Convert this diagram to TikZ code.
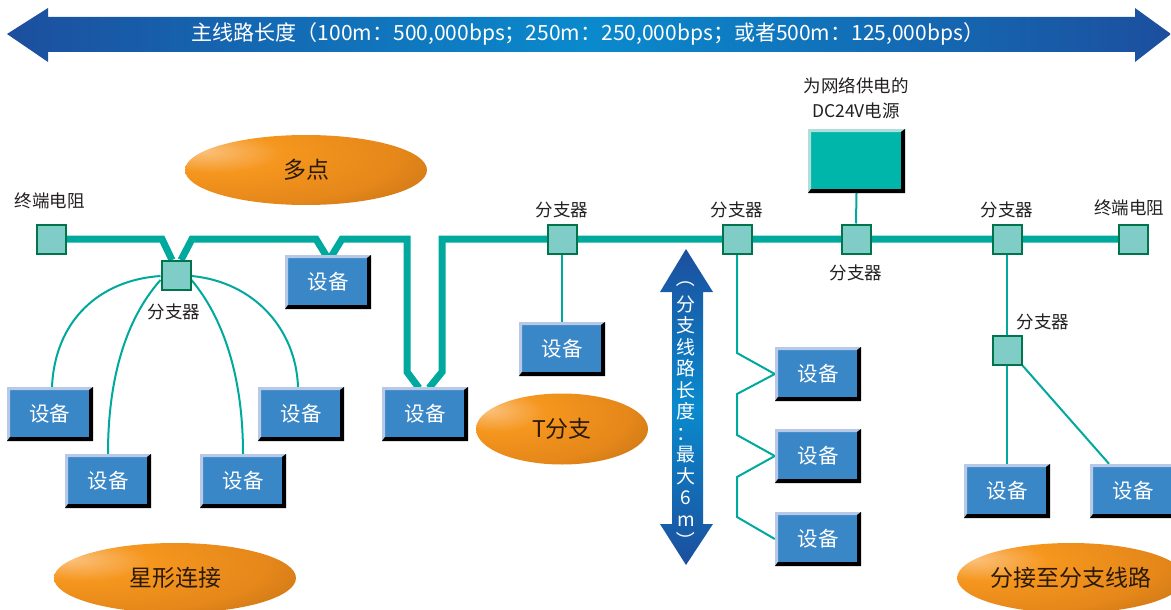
\documentclass[tikz,border=0pt]{standalone}
\usepackage{fontspec}
\setmainfont{Noto Sans CJK SC}
\usetikzlibrary{shapes.geometric}
\definecolor{busteal}{HTML}{00A99D}
\definecolor{boxfill}{HTML}{7FCDC6}
\definecolor{boxdraw}{HTML}{00744A}
\definecolor{devblue}{HTML}{3A87C8}
\definecolor{bevlight}{HTML}{B7C9E6}
\definecolor{pwteal}{HTML}{00B5A9}
\definecolor{pwlight}{HTML}{B0DEDA}
\definecolor{arrdark}{HTML}{1C4F9E}
\definecolor{arrmid}{HTML}{0A8ACD}
\definecolor{labtxt}{HTML}{231F20}
\definecolor{elltxt}{HTML}{2B1A0A}
\definecolor{obA}{HTML}{FBC27E}
\definecolor{obB}{HTML}{F5961E}
\definecolor{obC}{HTML}{E5871A}
\definecolor{obD}{HTML}{9A580E}
\pgfdeclareradialshading{orangeball}{\pgfpoint{-22bp}{14bp}}{color(0bp)=(obA); color(14bp)=(obB); color(34bp)=(obC); color(66bp)=(obD); color(100bp)=(obD)}
\pgfdeclarelayer{bg}
\pgfsetlayers{bg,main}
\tikzset{
  bus/.style={draw=busteal, line width=7pt},
  thin/.style={draw=busteal, line width=2pt},
  tap/.style={rectangle, fill=boxfill, draw=boxdraw, line width=2pt, minimum size=29pt, inner sep=0pt},
  lab/.style={text=labtxt, font=\fontsize{17.5}{18}\selectfont, inner sep=0pt},
  bevelbox/.style 2 args={rectangle, inner sep=0pt, fill=#1,
    path picture={
      \fill[#2] (path picture bounding box.north west) -- (path picture bounding box.north east)
        -- ([xshift=-4pt,yshift=-3pt]path picture bounding box.north east)
        -- ([xshift=3pt,yshift=-3pt]path picture bounding box.north west)
        -- ([xshift=3pt,yshift=4pt]path picture bounding box.south west)
        -- (path picture bounding box.south west) -- cycle;
      \fill[black] (path picture bounding box.south west) -- (path picture bounding box.south east)
        -- (path picture bounding box.north east)
        -- ([xshift=-4pt,yshift=-3pt]path picture bounding box.north east)
        -- ([xshift=-4pt,yshift=4pt]path picture bounding box.south east)
        -- ([xshift=3pt,yshift=4pt]path picture bounding box.south west) -- cycle;
    }},
  dev/.style={bevelbox={devblue}{bevlight}, minimum width=86pt, minimum height=54pt,
    text=white, font=\fontsize{20.5}{21}\selectfont},
  oval/.style={ellipse, inner sep=0pt, shading=orangeball, text=elltxt,
    font=\fontsize{23}{23}\selectfont},
  vtxt/.style={text=white, font=\fontsize{19}{19}\selectfont, inner sep=0pt},
}
\begin{document}
\begin{tikzpicture}[x=1pt, y=-1pt]
\useasboundingbox (0,0) rectangle (1171,610);

% top arrow
\shade[left color=arrdark, right color=arrdark, middle color=arrmid]
  (7,34) -- (48,8) -- (48,17) -- (1135,17) -- (1135,8) -- (1171,34)
  -- (1135,62) -- (1135,52) -- (48,52) -- (48,62) -- cycle;
\node[text=white, font=\fontsize{21}{21}\selectfont, inner sep=0pt] (title) at (588,34)
  {主线路长度（100m：500,000bps；250m：250,000bps；或者500m：125,000bps）};

% vertical arrow
\shade[top color=arrdark, bottom color=arrdark, middle color=arrmid]
  (686,249) -- (713,292) -- (703,292) -- (703,524) -- (713,524) -- (686,565)
  -- (660,524) -- (672,524) -- (672,292) -- (660,292) -- cycle;
\node[text=white, font=\fontsize{19}{21.5}\selectfont, align=center, inner sep=0pt] (vlen) at (686,411)
  {分\\支\\线\\路\\长\\度\\：\\最\\大\\6\\m};
\node[vtxt] (vlo) at (686,278) {\rotatebox{-90}{（}};
\node[vtxt] (vlc) at (686,541) {\rotatebox{-90}{）}};

% ellipses
\node[oval, minimum width=242pt, minimum height=70pt] (eMulti) at (306,170) {多点};
\node[oval, minimum width=242pt, minimum height=70pt] (eStar) at (175,578) {星形连接};
\node[oval, minimum width=172pt, minimum height=71pt] (eT) at (562,429) {T分支};
\node[oval, minimum width=212pt, minimum height=70pt] (eSub) at (1071,578) {分接至分支线路};

% taps and terminators
\node[tap] (tL) at (51,239) {};
\node[tap] (sb) at (176,275) {};
\node[tap] (bA) at (562,239) {};
\node[tap] (bB) at (737,239) {};
\node[tap] (bC) at (856,239) {};
\node[tap] (bD) at (1007,239) {};
\node[tap] (tR) at (1133,239) {};
\node[tap] (bE) at (1007,350) {};

% labels
\node[lab] (ltL) at (50,201) {终端电阻};
\node[lab] (lsb) at (174,312) {分支器};
\node[lab] (lbA) at (562,210) {分支器};
\node[lab] (lbB) at (737,210) {分支器};
\node[lab] (lbC) at (856,273) {分支器};
\node[lab] (lbD) at (1007,210) {分支器};
\node[lab] (ltR) at (1129,208) {终端电阻};
\node[lab] (lbE) at (1043,322) {分支器};
\node[lab, align=center, font=\fontsize{17.5}{25}\selectfont] (lpw) at (856,98) {为网络供电的\\DC24V电源};

% power box
\node[bevelbox={pwteal}{pwlight}, minimum width=97pt, minimum height=64pt] (pw) at (856.5,161) {};

% devices
\node[dev] (d1) at (50,414) {设备};
\node[dev] (d2) at (108,481) {设备};
\node[dev] (d3) at (243,481) {设备};
\node[dev] (d4) at (301,414) {设备};
\node[dev] (dm) at (328,282) {设备};
\node[dev] (d5) at (425,414) {设备};
\node[dev] (dA) at (562,349) {设备};
\node[dev] (d7) at (818,374) {设备};
\node[dev] (d8) at (818,456) {设备};
\node[dev] (d9) at (818,539) {设备};
\node[dev] (dE1) at (1007,491) {设备};
\node[dev] (dE2) at (1133,491) {设备};

\begin{pgfonlayer}{bg}
\draw[bus] (tL.center) -- (162,239) -- (172,260)
  (181,260) -- (192,239) -- (316,239) -- (327,257)
  (331,257) -- (342,239) -- (407,239) -- (407,372) -- (419,388)
  (429,388) -- (442,372) -- (442,239) -- (tR.center);
% star
\draw[thin] ([yshift=-1pt]sb.west) .. controls (100,280) and (55,320) .. ([xshift=2pt]d1.north);
\draw[thin] ([yshift=-5pt]sb.west) .. controls (125,320) and (108,380) .. (d2.north);
\draw[thin] ([yshift=-5pt]sb.east) .. controls (225,320) and (243,380) .. (d3.north);
\draw[thin] ([yshift=-1pt]sb.east) .. controls (255,282) and (296,330) .. ([xshift=-3pt]d4.north);
% T branch
\draw[thin] (bA.south) -- (dA.north);
% daisy chain
\draw[thin] (bB.south) -- (737,353) -- (d7.west) -- (737,394) -- (737,435) -- (d8.west)
  -- (737,477) -- (737,517) -- (d9.west);
% power
\draw[thin] (pw.south) -- (bC.north);
% sub branch
\draw[thin] (bD.south) -- (bE.north);
\draw[thin] (bE.south) -- (dE1.north);
\draw[thin] (bE.south east) -- ([xshift=-24pt]dE2.north);
\end{pgfonlayer}
\end{tikzpicture}
\end{document}
